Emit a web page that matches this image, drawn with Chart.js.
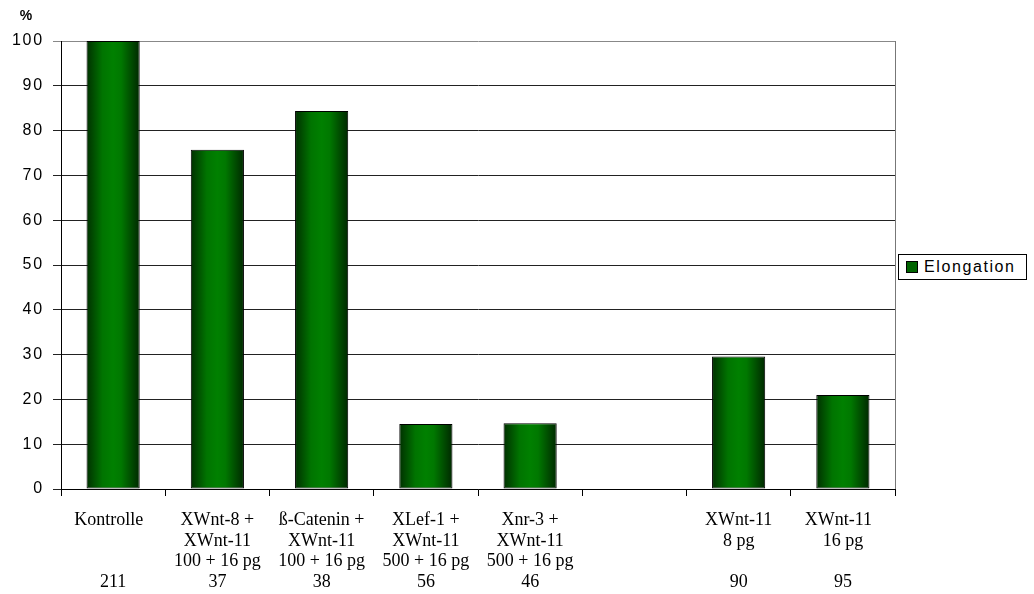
<!DOCTYPE html>
<html>
<head>
<meta charset="utf-8">
<script src="https://cdn.jsdelivr.net/npm/chart.js@4/dist/chart.umd.min.js"></script>
<style>
  html, body { margin: 0; padding: 0; background: #fff; }
  #wrap { position: relative; width: 1034px; height: 594px; }
  #legend {
    position: absolute; left: 898px; top: 254px; width: 129px; height: 26px;
    border: 1px solid #000; box-sizing: border-box; background: #fff;
    font: 16px "Liberation Sans", Arial, sans-serif; letter-spacing: 1.6px;
    display: flex; align-items: center; padding-left: 7px;
  }
  #legend span.box {
    display: inline-block; width: 10px; height: 10px; margin-right: 6px;
    background: #006400; border: 1px solid #000;
  }
</style>
</head>
<body>
<div id="wrap">
  <canvas id="myChart" width="1034" height="594"></canvas>
  <div id="legend"><span class="box"></span>Elongation</div>
</div>
<script>
'use strict';
// groups on the x axis, one line of text per row (last row = n)
let groupLabels = [
    ['Kontrolle  ', '', '', '211'],
    ['XWnt-8 +', 'XWnt-11', '100 + 16 pg', '37'],
    ['ß-Catenin +', 'XWnt-11', '100 + 16 pg', '38'],
    ['XLef-1 +', 'XWnt-11', '500 + 16 pg', '56'],
    ['Xnr-3 +', 'XWnt-11', '500 + 16 pg', '46'],
    ['', '', '', ''],
    ['XWnt-11', '8 pg', '', '90'],
    ['XWnt-11  ', '16 pg', '', '95']
];
let elongation = [100, 75.7, 84.4, 14.5, 14.7, null, 29.6, 21.0];
let yTicks = [0, 10, 20, 30, 40, 50, 60, 70, 80, 90, 100];

let barPct = 0.51;

// green bars with darker edges, like a cylinder
function barFill(c) {
    let xs = c.chart.scales.x;
    if (!xs || c.dataIndex === undefined) return '#006400';
    let cx = xs.getPixelForValue(c.dataIndex);
    let w = xs.width / groupLabels.length * barPct;
    if (!isFinite(cx) || !isFinite(w) || w <= 0) return '#006400';
    let g = c.chart.ctx.createLinearGradient(cx - w / 2, 0, cx + w / 2, 0);
    g.addColorStop(0, '#003000');
    g.addColorStop(0.3, '#007400');
    g.addColorStop(0.5, '#008000');
    g.addColorStop(0.65, '#007800');
    g.addColorStop(1, '#002800');
    return g;
}

// percent sign over the y axis and the right edge of the plot
let extras = {
    id: 'extras',
    afterDraw(chart) {
        let ctx = chart.ctx;
        let a = chart.chartArea;
        ctx.save();
        ctx.strokeStyle = '#777';
        ctx.lineWidth = 1;
        ctx.beginPath();
        ctx.moveTo(a.right + 0.5, a.top);
        ctx.lineTo(a.right + 0.5, a.bottom);
        ctx.stroke();
        ctx.fillStyle = '#000';
        ctx.font = 'bold 14px "Liberation Sans", Arial, sans-serif';
        ctx.textAlign = 'center';
        ctx.textBaseline = 'middle';
        ctx.fillText('%', 26, 16);
        ctx.restore();
    }
};

let ctx = document.getElementById('myChart').getContext('2d');
let myChart = new Chart(ctx, {
    type: 'bar',
    data: {
        labels: groupLabels,
        datasets: [{
            label: 'Elongation',
            data: elongation,
            backgroundColor: barFill,
            borderColor: '#000',
            borderWidth: 1,
            borderSkipped: false,
            categoryPercentage: barPct,
            barPercentage: 1
        }]
    },
    options: {
        responsive: false,
        animation: false,
        layout: { padding: { top: 41, right: 139, left: 0, bottom: 0 } },
        plugins: {
            legend: { display: false },
            tooltip: { enabled: false }
        },
        scales: {
            x: {
                grid: {
                    offset: true, drawOnChartArea: false, tickLength: 7,
                    color: '#000'
                },
                border: { color: '#000' },
                ticks: {
                    color: '#000', maxRotation: 0, autoSkip: false, padding: 14,
                    font: { family: '"Liberation Serif", "Times New Roman", serif', size: 18, lineHeight: 1.15 }
                },
                afterFit(scale) { scale.height = 105; }
            },
            y: {
                min: 0, max: 100,
                afterBuildTicks(scale) { scale.ticks = yTicks.map(v => ({ value: v })); },
                grid: {
                    tickLength: 8,
                    color: ctx => ctx.tick && ctx.tick.value === 100 ? '#888' : '#222'
                },
                border: { color: '#000' },
                ticks: {
                    color: '#000', padding: 9,
                    font: { family: '"Liberation Sans", Arial, sans-serif', size: 16 }
                },
                afterFit(scale) {
                    scale.width = 61;
                    // wider spacing between the digits of the axis numbers
                    if (!scale._spaced) {
                        let base = scale.drawLabels;
                        scale.drawLabels = function (area) {
                            this.ctx.save();
                            this.ctx.letterSpacing = '1.8px';
                            base.call(this, area);
                            this.ctx.restore();
                        };
                        scale._spaced = true;
                    }
                }
            }
        }
    },
    plugins: [extras]
});
</script>
</body>
</html>
